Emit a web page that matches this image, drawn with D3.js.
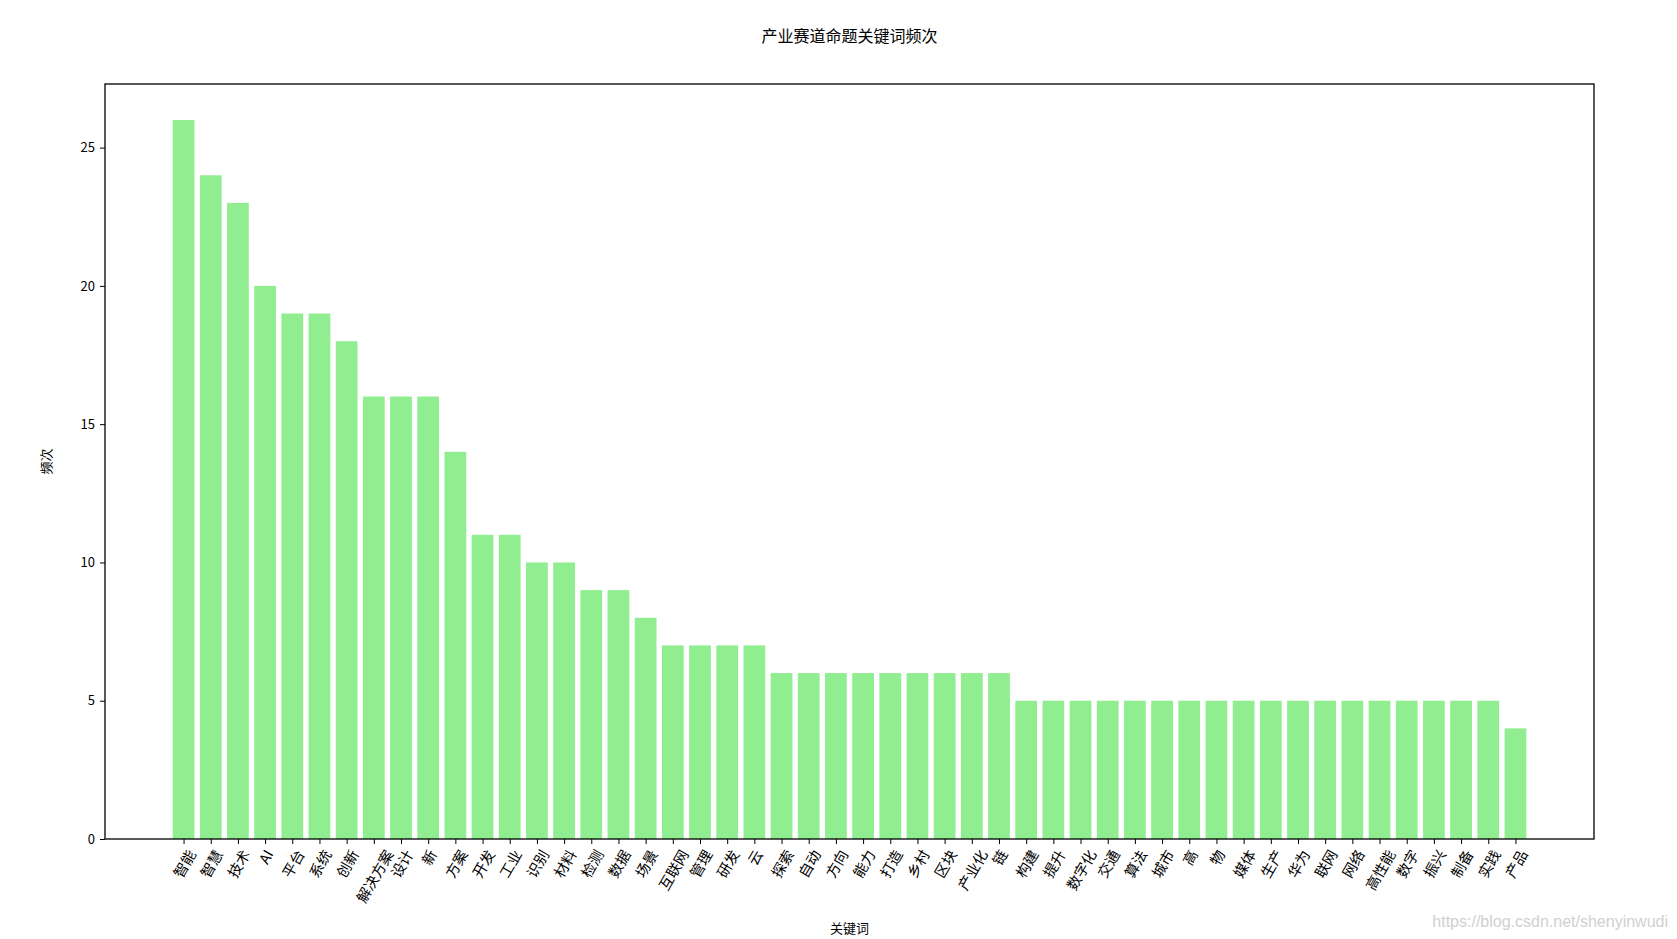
<!DOCTYPE html>
<html>
<head>
<meta charset="utf-8">
<script src="https://cdn.jsdelivr.net/npm/d3@7"></script>
<style>
	body { margin: 0; background: #fff; }
	svg text { font-family: "Noto Sans CJK SC", "DejaVu Sans", sans-serif; fill: #000; }
</style>
</head>
<body>
<svg id="chart" width="1677" height="939"></svg>
<script>
'use strict';

// keywords and how often they occur
var keywords = ["智能", "智慧", "技术", "AI", "平台", "系统", "创新", "解决方案", "设计", "新",
	"方案", "开发", "工业", "识别", "材料", "检测", "数据", "场景", "互联网", "管理",
	"研发", "云", "探索", "自动", "方向", "能力", "打造", "乡村", "区块", "产业化",
	"链", "构建", "提升", "数字化", "交通", "算法", "城市", "高", "物", "媒体",
	"生产", "华为", "联网", "网络", "高性能", "数字", "振兴", "制备", "实践", "产品"];
var counts = [26, 24, 23, 20, 19, 19, 18, 16, 16, 16,
	14, 11, 11, 10, 10, 9, 9, 8, 7, 7,
	7, 7, 6, 6, 6, 6, 6, 6, 6, 6,
	6, 5, 5, 5, 5, 5, 5, 5, 5, 5,
	5, 5, 5, 5, 5, 5, 5, 5, 5, 4];
var yTicks = [0, 5, 10, 15, 20, 25];

var chartTitle = "产业赛道命题关键词频次";
var xLabel = "关键词";
var yLabel = "频次";

function drawChart(svgName) {
	let svg = d3.select(svgName),
	margin = {
		top: 84,
		right: 83,
		bottom: 100,
		left: 105
	},
	width = +svg.attr("width") - margin.left - margin.right,
	height = +svg.attr("height") - margin.top - margin.bottom,
	g = svg.append("g").attr("transform", "translate(" + margin.left + "," + margin.top + ")");

	// matplotlib-like limits: bars 0.8 wide, 5% margins
	let n = keywords.length;
	let span = (n - 1) + 0.8;
	let x = d3.scaleLinear()
		.domain([-0.4 - span * 0.05, n - 1 + 0.4 + span * 0.05])
		.range([0, width]);
	let y = d3.scaleLinear()
		.domain([0, d3.max(counts) * 1.05])
		.range([height, 0]);

	let data = keywords.map(function (k, i) {
		return {name: k, value: counts[i], idx: i};
	});

	g.selectAll(".bar")
	.data(data)
	.enter().append("rect")
	.attr("class", "bar")
	.attr("x", function (d) { return x(d.idx - 0.4); })
	.attr("y", function (d) { return y(d.value); })
	.attr("width", x(0.4) - x(-0.4))
	.attr("height", function (d) { return height - y(d.value); })
	.style("fill", "#90ee90");

	// y axis
	let yAxis = g.append("g")
	.call(d3.axisLeft(y).tickValues(yTicks).tickSize(5).tickPadding(5));
	yAxis.select(".domain").remove();
	yAxis.selectAll("line").attr("stroke", "#000").attr("stroke-width", 1);
	yAxis.selectAll("text").style("font-size", "13px");

	// x axis with rotated labels
	let xAxis = g.append("g")
	.attr("transform", "translate(0," + height + ")")
	.call(d3.axisBottom(x).tickValues(d3.range(n)).tickSize(5).tickFormat(""));
	xAxis.select(".domain").remove();
	xAxis.selectAll("line").attr("stroke", "#000").attr("stroke-width", 1);

	let ang = 60 * Math.PI / 180;
	let fs = 14.5;
	data.forEach(function (d) {
		let t = g.append("text")
		.style("font-size", fs + "px")
		.attr("text-anchor", "middle")
		.attr("dominant-baseline", "central")
		.text(d.name);
		let len = t.node().getComputedTextLength();
		let bh = len * Math.sin(ang) + fs * Math.cos(ang);
		let cx = x(d.idx), cy = height + 8 + bh / 2;
		t.attr("transform", "translate(" + cx + "," + cy + ") rotate(-60)");
	});

	// frame
	g.append("rect")
	.attr("width", width)
	.attr("height", height)
	.attr("fill", "none")
	.attr("stroke", "#000")
	.attr("stroke-width", 1.3);

	svg.append("text")
	.attr("x", margin.left + width / 2)
	.attr("y", 35)
	.attr("text-anchor", "middle")
	.attr("dominant-baseline", "central")
	.style("font-size", "16px")
	.text(chartTitle);

	svg.append("text")
	.attr("x", margin.left + width / 2)
	.attr("y", 927)
	.attr("text-anchor", "middle")
	.attr("dominant-baseline", "central")
	.style("font-size", "13px")
	.text(xLabel);

	svg.append("text")
	.attr("transform", "translate(45," + (margin.top + height / 2) + ") rotate(-90)")
	.attr("text-anchor", "middle")
	.attr("dominant-baseline", "central")
	.style("font-size", "13px")
	.text(yLabel);

	svg.append("text")
	.attr("x", 1668)
	.attr("y", 927)
	.attr("text-anchor", "end")
	.style("font-size", "16px")
	.style("font-family", "Arial, 'Liberation Sans', sans-serif")
	.style("fill", "#d0d0d0")
	.text("https://blog.csdn.net/shenyinwudi");
}

drawChart("#chart");
</script>
</body>
</html>
